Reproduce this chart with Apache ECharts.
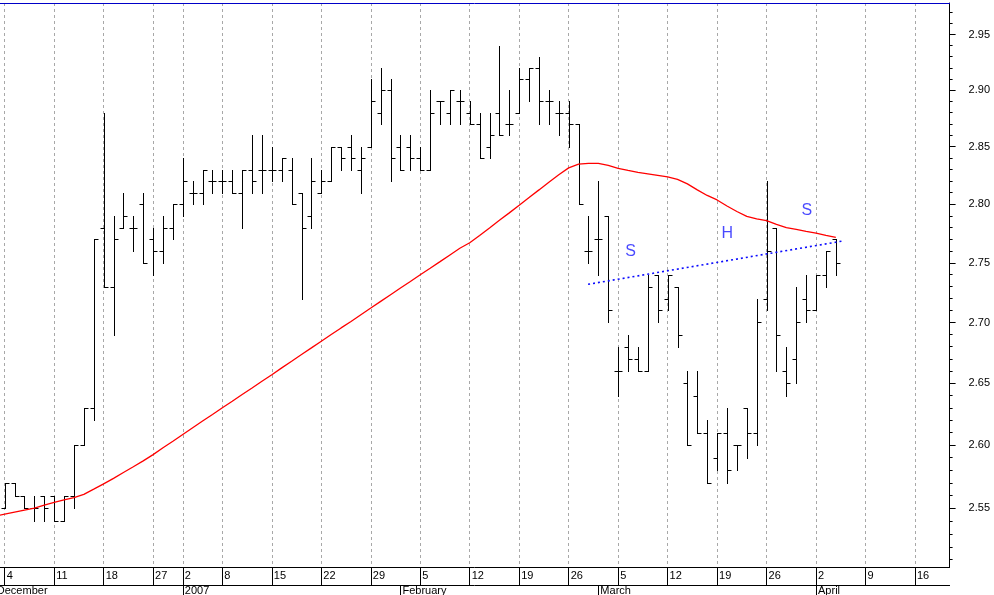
<!DOCTYPE html>
<html><head><meta charset="utf-8">
<script src="https://cdn.jsdelivr.net/npm/echarts@6/dist/echarts.min.js"></script>
<style>html,body{margin:0;padding:0;background:#fff;overflow:hidden}#c{width:994px;height:595px}</style>
</head><body><div id="c"></div>
<script>
// Trading days (first entry 2006-12-01 is only an axis slot, no bar drawn)
const holidays = ['2006-12-25', '2006-12-26', '2007-01-01'];
const days = [];
for (let d = new Date(Date.UTC(2006, 11, 1)); days.length < 86; d.setUTCDate(d.getUTCDate() + 1)) {
  const wd = d.getUTCDay(); const s = d.toISOString().slice(0, 10);
  if (wd === 0 || wd === 6 || holidays.includes(s)) continue;
  days.push(s);
}

const open = [null,
2.55,2.57,2.56,2.55,2.56, 2.56,2.54,2.56,2.60,2.63,
2.78,2.73,2.78,2.78,2.80, 2.77,2.76,2.78,2.80,2.81,
2.81,2.82,2.82,2.82,2.81, 2.83,2.83,2.83,2.83,2.83,
2.81,2.79,2.81,2.82,2.85, 2.85,2.83,2.85,2.88,2.90,
2.85,2.85,2.84,2.83,2.89, 2.88,2.89,2.88,2.87,2.85,
2.88,2.87,2.88,2.91,2.92, 2.89,2.88,2.88,2.87,2.76,
2.77,2.79,2.66,2.68,2.67, 2.66,2.74,2.72,2.73,2.65,
2.64,2.61,2.59,2.61,2.60, 2.63,2.61,2.72,2.78,2.66,
2.67,2.72,2.71,2.74,2.77];
const high = [null,
2.57,2.57,2.56,2.56,2.56, 2.56,2.56,2.60,2.63,2.77,
2.88,2.79,2.81,2.79,2.81, 2.78,2.79,2.80,2.84,2.82,
2.83,2.83,2.83,2.83,2.83, 2.86,2.86,2.85,2.84,2.84,
2.81,2.84,2.83,2.85,2.85, 2.86,2.85,2.91,2.92,2.91,
2.86,2.86,2.85,2.90,2.89, 2.90,2.90,2.89,2.88,2.88,
2.94,2.90,2.92,2.92,2.93, 2.90,2.89,2.89,2.87,2.79,
2.82,2.79,2.68,2.69,2.68, 2.74,2.74,2.74,2.73,2.66,
2.66,2.62,2.61,2.63,2.60, 2.63,2.72,2.82,2.78,2.68,
2.73,2.74,2.74,2.76,2.77];
const low = [null,
2.55,2.56,2.55,2.54,2.54, 2.54,2.54,2.55,2.60,2.62,
2.73,2.69,2.78,2.76,2.75, 2.74,2.75,2.77,2.79,2.80,
2.80,2.81,2.81,2.81,2.78, 2.81,2.81,2.82,2.82,2.80,
2.72,2.78,2.81,2.82,2.83, 2.83,2.81,2.85,2.87,2.82,
2.83,2.83,2.83,2.83,2.87, 2.87,2.87,2.87,2.84,2.84,
2.86,2.86,2.88,2.89,2.87, 2.87,2.86,2.85,2.80,2.75,
2.74,2.70,2.64,2.66,2.66, 2.66,2.70,2.71,2.68,2.60,
2.61,2.57,2.58,2.57,2.58, 2.59,2.60,2.71,2.66,2.64,
2.65,2.70,2.71,2.73,2.74];
const close = [null,
2.57,2.56,2.55,2.55,2.55, 2.54,2.56,2.60,2.63,2.77,
2.73,2.77,2.79,2.78,2.75, 2.76,2.78,2.80,2.82,2.81,
2.83,2.82,2.82,2.81,2.83, 2.82,2.83,2.83,2.84,2.80,
2.78,2.82,2.82,2.85,2.84, 2.84,2.84,2.89,2.90,2.84,
2.83,2.84,2.83,2.88,2.89, 2.90,2.89,2.87,2.84,2.86,
2.86,2.87,2.91,2.92,2.89, 2.89,2.88,2.87,2.80,2.76,
2.77,2.71,2.66,2.67,2.66, 2.73,2.71,2.74,2.69,2.60,
2.61,2.57,2.61,2.58,2.60, 2.61,2.70,2.76,2.69,2.65,
2.70,2.71,2.74,2.76,2.75];
// moving average (red)
const movingAvg = [2.5440,
2.5454,2.5470,2.5486,2.5502,2.5525, 2.5546,2.5566,2.5585,2.5610,2.5651,
2.5693,2.5736,2.5783,2.5828,2.5875, 2.5925,2.5979,2.6032,2.6086,2.6140,
2.6194,2.6247,2.6301,2.6354,2.6408, 2.6461,2.6516,2.6570,2.6626,2.6680,
2.6736,2.6790,2.6845,2.6900,2.6955, 2.7008,2.7065,2.7120,2.7176,2.7232,
2.7288,2.7343,2.7399,2.7454,2.7510, 2.7567,2.7624,2.7670,2.7733,2.7797,
2.7862,2.7926,2.7991,2.8059,2.8124, 2.8191,2.8256,2.8315,2.8347,2.8354,
2.8354,2.8337,2.8311,2.8293,2.8276, 2.8263,2.8250,2.8237,2.8215,2.8176,
2.8124,2.8076,2.8037,2.7985,2.7938, 2.7896,2.7874,2.7859,2.7827,2.7799,
2.7785,2.7768,2.7752,2.7733,2.7716];

// trend line (blue dotted): slot positions and values
const trendPos = [59.96, 85.76];
const trendVal = [2.7319, 2.7686];
// annotations
const annoText = ['S', 'H', 'S'];
const annoPos = [64.25, 74.03, 82.06];
const annoVal = [2.7597, 2.7746, 2.7943];

// axis ticks / labels (slot index: 0 = 2006-12-01)
const weekTickPos = [1,6,11,16,19,23,28,33,38,43,48,53,58,63,68,73,78,83,88,93];
const weekTickText = ['4','11','18','27','2','8','15','22','29','5','12','19','26','5','12','19','26','2','9','16'];
const monthTickPos = [0,19,41,61,83];
const monthTickText = ['December','2007','February','March','April'];
const priceTicks = [2.55,2.60,2.65,2.70,2.75,2.80,2.85,2.90,2.95];
const minorTicks = [];
for (let k = 251; k <= 297; k++) if (k % 5 !== 0) minorTicks.push(k / 100);

const LN = Math.log;
const Y_MIN = LN(2.5044), Y_MAX = LN(2.9788);
const X_MIN = -0.5, X_MAX = 96.5;
const FONT = 'Liberation Sans, Arial, sans-serif';
const GRID = { left: -10.14, right: 44.4, top: 3, bottom: 28, containLabel: false, outerBoundsMode: 'none' };

const ohlcData = [];
for (let k = 0; k < days.length; k++) {
  if (open[k] == null) continue;
  ohlcData.push([k, LN(open[k]), LN(high[k]), LN(low[k]), LN(close[k])]);
}

function renderItem(params, api) {
  const k = api.value(0);
  const pO = api.coord([k, api.value(1)]);
  const pH = api.coord([k, api.value(2)]);
  const pL = api.coord([k, api.value(3)]);
  const pC = api.coord([k, api.value(4)]);
  const x = Math.round(pH[0]) + 0.5;
  const yH = Math.round(pH[1]), yL = Math.round(pL[1]) + 1;
  const yO = Math.round(pO[1]) + 0.5, yC = Math.round(pC[1]) + 0.5;
  const st = { stroke: '#000', lineWidth: 1 };
  return { type: 'group', children: [
    { type: 'line', shape: { x1: x, y1: yH, x2: x, y2: yL }, style: st },
    { type: 'line', shape: { x1: x - 4, y1: yO, x2: x, y2: yO }, style: st },
    { type: 'line', shape: { x1: x, y1: yC, x2: x + 4, y2: yC }, style: st }
  ]};
}

const chart = echarts.init(document.getElementById('c'), null, { renderer: 'canvas' });
chart.setOption({
  animation: false,
  backgroundColor: '#fff',
  grid: [Object.assign({}, GRID), Object.assign({}, GRID)],
  xAxis: [
    { type: 'value', gridIndex: 0, min: X_MIN, max: X_MAX, position: 'bottom',
      axisLine: { show: true, onZero: false, lineStyle: { color: '#000', width: 1 } },
      axisTick: { show: true, customValues: weekTickPos, length: 18, lineStyle: { color: '#000' } },
      axisLabel: { customValues: weekTickPos, formatter: v => weekTickText[weekTickPos.indexOf(v)],
        align: 'left', padding: [0, 0, 0, 2], margin: 3, fontSize: 11, color: '#000', fontFamily: FONT },
      splitLine: { show: true, lineStyle: { color: '#a8a8a8', width: 1, type: [3, 3] } } },
    { type: 'value', gridIndex: 0, min: X_MIN, max: X_MAX, position: 'bottom', offset: 18,
      axisLine: { show: true, onZero: false, lineStyle: { color: '#000', width: 1 } },
      axisTick: { show: true, customValues: monthTickPos, length: 12, lineStyle: { color: '#000' } },
      axisLabel: { customValues: monthTickPos, formatter: v => monthTickText[monthTickPos.indexOf(v)],
        align: 'left', padding: [0, 0, 0, 2], margin: 0, fontSize: 11, color: '#000', fontFamily: FONT },
      splitLine: { show: false } },
    { type: 'value', gridIndex: 0, min: X_MIN, max: X_MAX, position: 'top',
      axisLine: { show: true, onZero: false, lineStyle: { color: '#0000c8', width: 1 } },
      axisTick: { show: false }, axisLabel: { show: false }, splitLine: { show: false } },
    { type: 'value', gridIndex: 1, min: X_MIN, max: X_MAX, show: false }
  ],
  yAxis: [
    { type: 'value', gridIndex: 0, min: Y_MIN, max: Y_MAX, position: 'right',
      axisLine: { show: true, onZero: false, lineStyle: { color: '#000', width: 1 } },
      axisTick: { show: true, customValues: priceTicks.map(LN), length: 6, lineStyle: { color: '#000' } },
      axisLabel: { customValues: priceTicks.map(LN), formatter: v => Math.exp(v).toFixed(2),
        margin: 19, fontSize: 11, color: '#000', fontFamily: FONT },
      splitLine: { show: false } },
    { type: 'value', gridIndex: 1, min: Y_MIN, max: Y_MAX, position: 'right',
      axisLine: { show: false, onZero: false },
      axisTick: { show: true, customValues: minorTicks.map(LN), length: 3, lineStyle: { color: '#000' } },
      axisLabel: { show: false }, splitLine: { show: false } }
  ],
  series: [
    { type: 'custom', name: 'OHLC', xAxisIndex: 0, yAxisIndex: 0, renderItem: renderItem,
      encode: { x: 0, y: [1, 2, 3, 4] }, data: ohlcData, z: 2, silent: true },
    { type: 'line', name: 'MA', xAxisIndex: 0, yAxisIndex: 0, showSymbol: false, symbol: 'none',
      data: movingAvg.map((v, k) => [k, LN(v)]), lineStyle: { color: '#ff0000', width: 1.3 }, z: 3, silent: true },
    { type: 'line', name: 'Trend', xAxisIndex: 0, yAxisIndex: 0, showSymbol: false, symbol: 'none',
      data: trendPos.map((p, j) => [p, LN(trendVal[j])]),
      lineStyle: { color: '#0a0aff', width: 1.6, type: [2, 3] }, z: 4, silent: true },
    { type: 'scatter', name: 'Pattern', xAxisIndex: 0, yAxisIndex: 0, symbolSize: 0,
      data: annoPos.map((p, j) => ({ value: [p, LN(annoVal[j])], name: annoText[j] })),
      label: { show: true, position: 'inside', formatter: '{b}', color: '#1a1aff', fontSize: 16, fontFamily: FONT },
      z: 5, silent: true }
  ]
});
</script></body></html>
